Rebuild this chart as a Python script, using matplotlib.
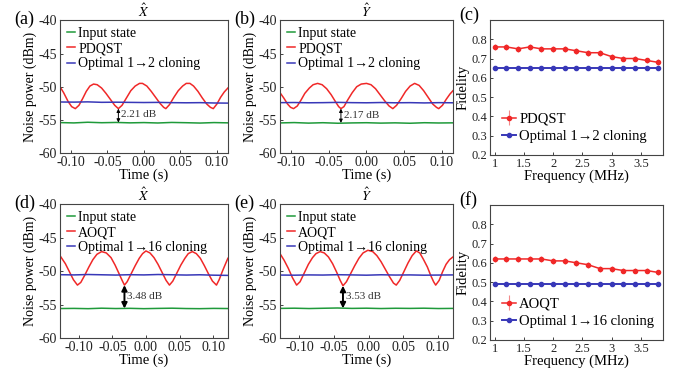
import matplotlib
matplotlib.use("Agg")
import matplotlib.pyplot as plt

plt.rcParams['font.family'] = ['Liberation Serif', 'DejaVu Serif']
plt.rcParams['mathtext.fontset'] = 'stix'
plt.rcParams['axes.unicode_minus'] = False

# ---- data ----
# (a) X quadrature, PDQST
t_a = [-0.115, -0.110, -0.104, -0.099, -0.094, -0.089, -0.084, -0.079, -0.074, -0.069,
       -0.064, -0.058, -0.052, -0.046, -0.040, -0.035, -0.030, -0.024, -0.018, -0.012,
       -0.006, -0.002, 0.004, 0.010, 0.016, 0.022, 0.027, 0.030, 0.035, 0.041,
       0.047, 0.053, 0.058, 0.063, 0.068, 0.074, 0.080, 0.086, 0.091, 0.095,
       0.100, 0.105, 0.110, 0.115]
red_a = [-50.0, -50.9, -52.2, -53.0, -53.3, -52.8, -51.8, -50.7, -49.9, -49.6,
         -49.7, -50.2, -51.0, -51.9, -52.8, -53.3, -52.8, -51.7, -50.6, -49.9,
         -49.5, -49.5, -49.9, -50.7, -51.6, -52.5, -53.1, -53.3, -52.7, -51.6,
         -50.6, -49.9, -49.5, -49.5, -49.9, -50.7, -51.7, -52.6, -53.1, -53.3,
         -52.6, -51.6, -50.8, -50.2]
# (b) Y quadrature, PDQST
t_b = [-0.115, -0.110, -0.105, -0.101, -0.097, -0.092, -0.087, -0.082, -0.076, -0.071,
       -0.065, -0.059, -0.053, -0.047, -0.041, -0.037, -0.034, -0.030, -0.025, -0.019,
       -0.013, -0.007, 0.000, 0.006, 0.012, 0.018, 0.024, 0.030, 0.035, 0.040,
       0.046, 0.052, 0.058, 0.064, 0.070, 0.076, 0.082, 0.088, 0.093, 0.096,
       0.101, 0.106, 0.111, 0.115]
red_b = [-50.9, -51.7, -52.6, -53.1, -53.3, -52.9, -52.0, -51.0, -50.2, -49.7,
         -49.5, -49.7, -50.3, -51.2, -52.3, -53.0, -53.3, -53.0, -52.0, -50.9,
         -50.0, -49.6, -49.5, -49.7, -50.3, -51.2, -52.1, -52.9, -53.3, -52.8,
         -51.8, -50.7, -49.9, -49.5, -49.8, -50.6, -51.6, -52.6, -53.1, -53.3,
         -52.8, -51.9, -51.1, -50.6]
# (d) X quadrature, AOQT
t_d = [-0.128, -0.120, -0.114, -0.108, -0.102, -0.097, -0.091, -0.085, -0.079, -0.073,
       -0.066, -0.059, -0.052, -0.046, -0.040, -0.035, -0.032, -0.028, -0.022, -0.016,
       -0.010, -0.005, 0.000, 0.006, 0.012, 0.018, 0.024, 0.030, 0.035, 0.040,
       0.046, 0.052, 0.058, 0.063, 0.069, 0.075, 0.081, 0.087, 0.093, 0.099,
       0.105, 0.109, 0.114, 0.119, 0.122]
red_d = [-47.7, -48.9, -50.1, -51.3, -52.1, -51.7, -50.6, -49.4, -48.3, -47.5,
         -47.1, -47.3, -48.0, -49.1, -50.4, -51.5, -52.1, -51.6, -50.4, -49.2,
         -48.1, -47.4, -47.0, -47.3, -48.0, -49.0, -50.2, -51.4, -52.1, -51.5,
         -50.3, -49.1, -48.1, -47.4, -47.1, -47.4, -48.1, -49.2, -50.4, -51.5,
         -52.1, -51.3, -50.0, -48.8, -48.1]
# (e) Y quadrature, AOQT
t_e = [-0.128, -0.122, -0.116, -0.110, -0.104, -0.099, -0.093, -0.087, -0.081, -0.076,
       -0.070, -0.064, -0.058, -0.052, -0.046, -0.041, -0.037, -0.032, -0.026, -0.020,
       -0.014, -0.008, -0.001, 0.006, 0.012, 0.018, 0.024, 0.030, 0.036, 0.040,
       0.045, 0.051, 0.057, 0.063, 0.069, 0.074, 0.079, 0.085, 0.090, 0.094,
       0.097, 0.102, 0.107, 0.112, 0.117, 0.122]
red_e = [-47.4, -48.4, -49.6, -51.0, -52.1, -51.6, -50.3, -49.0, -48.0, -47.4,
         -47.1, -47.3, -47.9, -48.9, -50.2, -51.4, -52.2, -51.6, -50.4, -49.2,
         -48.1, -47.3, -46.9, -47.1, -47.7, -48.6, -49.7, -50.8, -51.8, -52.1,
         -51.4, -50.1, -48.8, -47.7, -47.0, -47.3, -48.2, -49.4, -50.7, -51.6,
         -52.1, -51.4, -50.1, -49.0, -48.3, -47.9]

# flat traces (input state and optimal cloning)
t_flat_top = [-0.115, -0.096, -0.077, -0.058, -0.038, -0.019, 0.000, 0.019, 0.038, 0.058, 0.077, 0.096, 0.115]
green_a = [-55.40, -55.45, -55.35, -55.42, -55.38, -55.44, -55.40, -55.46, -55.38, -55.42, -55.47, -55.40, -55.44]
blue_a = [-52.30, -52.32, -52.28, -52.35, -52.33, -52.36, -52.38, -52.36, -52.40, -52.42, -52.40, -52.45, -52.47]
green_b = [-55.45, -55.40, -55.48, -55.42, -55.50, -55.45, -55.42, -55.48, -55.44, -55.50, -55.42, -55.46, -55.44]
blue_b = [-52.40, -52.38, -52.42, -52.40, -52.36, -52.40, -52.42, -52.38, -52.42, -52.40, -52.44, -52.40, -52.42]
t_flat_bot = [-0.128, -0.107, -0.086, -0.066, -0.045, -0.024, -0.003, 0.018, 0.039, 0.060, 0.080, 0.101, 0.122]
green_d = [-55.60, -55.58, -55.62, -55.55, -55.60, -55.57, -55.62, -55.58, -55.55, -55.60, -55.62, -55.58, -55.60]
blue_d = [-50.55, -50.58, -50.52, -50.56, -50.60, -50.55, -50.58, -50.52, -50.56, -50.60, -50.56, -50.62, -50.65]
green_e = [-55.58, -55.55, -55.60, -55.56, -55.52, -55.58, -55.55, -55.60, -55.56, -55.58, -55.55, -55.60, -55.58]
blue_e = [-50.60, -50.62, -50.58, -50.60, -50.55, -50.58, -50.62, -50.56, -50.60, -50.58, -50.62, -50.60, -50.58]

# fidelity vs frequency
freq = [1.0, 1.2, 1.4, 1.6, 1.8, 2.0, 2.2, 2.4, 2.6, 2.8, 3.0, 3.2, 3.4, 3.6, 3.8]
fid_pdqst = [0.76, 0.76, 0.75, 0.76, 0.75, 0.75, 0.75, 0.74, 0.73, 0.73, 0.71, 0.70, 0.70, 0.69, 0.68]
err_pdqst = [0.015] * 15
fid_clone2 = [0.65] * 15
fid_aoqt = [0.62, 0.62, 0.62, 0.62, 0.62, 0.61, 0.61, 0.60, 0.59, 0.57, 0.57, 0.56, 0.56, 0.56, 0.55]
err_aoqt = [0.015] * 15
fid_clone16 = [0.49] * 15

GREEN = '#1f9a3a'
RED = '#f02828'
BLUE = '#3838b8'
FS = 10

fig = plt.figure(figsize=(6.77, 3.69), dpi=100)


def style(ax):
    for s in ax.spines.values():
        s.set_color('#444444')
        s.set_linewidth(0.8)
    ax.tick_params(direction='in', length=2.5, width=0.6, labelsize=FS, pad=2,
                   colors='#222222')


def noise_panel(rect, t_red, red, t_flat, green, blue, red_lab, clone_lab,
                title, letter, xlim, arr_t, arr_top, arr_bot, arr_txt, thick):
    ax = fig.add_axes(rect)
    ax.plot(t_flat, green, color=GREEN, lw=1.1, label='Input state')
    ax.plot(t_red, red, color=RED, lw=1.1, label=red_lab)
    ax.plot(t_flat, blue, color=BLUE, lw=1.1, label=clone_lab)
    ax.set_xlim(*xlim)
    ax.set_ylim(-60, -40)
    ax.set_yticks([-60, -55, -50, -45, -40])
    ax.set_xticks([-0.10, -0.05, 0.0, 0.05, 0.10])
    ax.set_xticklabels(['-0.10', '-0.05', '0.00', '0.05', '0.10'])
    ax.set_xlabel('Time (s)', fontsize=FS + 0.5, labelpad=0)
    ax.set_ylabel('Noise power (dBm)', fontsize=FS, labelpad=1)
    ax.set_title(title, fontsize=FS, pad=1)
    style(ax)
    ax.legend(loc='upper left', frameon=False, fontsize=FS,
              handlelength=0.6, handletextpad=0.2, labelspacing=0.15,
              borderaxespad=0.1)
    lw = 1.4 if thick else 0.7
    ms = 8 if thick else 5
    ax.annotate('', xy=(arr_t, arr_bot), xytext=(arr_t, arr_top),
                arrowprops=dict(arrowstyle='<|-|>', color='black', lw=lw,
                                mutation_scale=ms, shrinkA=0, shrinkB=0))
    ax.text(arr_t + 0.004, (arr_top + arr_bot) / 2 + 0.1, arr_txt,
            fontsize=8, va='center', ha='left', color='#333333')
    fig.text(rect[0] - 0.067, rect[1] + rect[3] + 0.002, letter,
             fontsize=FS + 3, va='center', ha='left')
    return ax


def fid_panel(rect, red_vals, red_err, blue_vals, red_lab, clone_lab, letter):
    ax = fig.add_axes(rect)
    eb = ax.errorbar(freq, red_vals, yerr=red_err, color=RED, lw=1.1, marker='o',
                     ms=3, ecolor='#f28a8a', elinewidth=0.8, capsize=0)
    bl, = ax.plot(freq, blue_vals, color=BLUE, lw=1.4, marker='o', ms=3)
    ax.set_xlim(0.92, 3.88)
    ax.set_ylim(0.2, 0.9)
    ax.set_yticks([0.2, 0.3, 0.4, 0.5, 0.6, 0.7, 0.8])
    ax.set_xticks([1, 1.5, 2, 2.5, 3, 3.5])
    ax.set_xticklabels(['1', '1.5', '2', '2.5', '3', '3.5'])
    ax.set_xlabel('Frequency (MHz)', fontsize=FS + 0.5, labelpad=0)
    ax.set_ylabel('Fidelity', fontsize=FS + 0.5, labelpad=1)
    style(ax)
    ax.tick_params(labelsize=FS - 1)
    ax.legend([eb, bl], [red_lab, clone_lab], loc='lower left', frameon=False,
              fontsize=FS + 0.5, handlelength=1.0, handletextpad=0.2,
              labelspacing=0.3, numpoints=1, borderaxespad=0.4,
              bbox_to_anchor=(0.0, 0.0))
    fig.text(rect[0] - 0.045, rect[1] + rect[3] + 0.013, letter,
             fontsize=FS + 3, va='center', ha='left')
    return ax


top_lim = (-0.115, 0.115)
bot_lim = (-0.128, 0.122)

noise_panel([0.0886, 0.585, 0.248, 0.360], t_a, red_a, t_flat_top, green_a, blue_a,
            'PDQST', 'Optimal 1→2 cloning', r'$\hat{X}$', '(a)', top_lim,
            -0.035, -53.3, -55.4, '2.21 dB', False)
noise_panel([0.4136, 0.585, 0.2555, 0.360], t_b, red_b, t_flat_top, green_b, blue_b,
            'PDQST', 'Optimal 1→2 cloning', r'$\hat{Y}$', '(b)', top_lim,
            -0.034, -53.3, -55.45, '2.17 dB', False)
noise_panel([0.0886, 0.084, 0.248, 0.363], t_d, red_d, t_flat_bot, green_d, blue_d,
            'AOQT', 'Optimal 1→16 cloning', r'$\hat{X}$', '(d)', bot_lim,
            -0.032, -52.1, -55.6, '3.48 dB', True)
noise_panel([0.4136, 0.084, 0.2555, 0.363], t_e, red_e, t_flat_bot, green_e, blue_e,
            'AOQT', 'Optimal 1→16 cloning', r'$\hat{Y}$', '(e)', bot_lim,
            -0.037, -52.2, -55.58, '3.53 dB', True)

fid_panel([0.7238, 0.58, 0.2555, 0.366], fid_pdqst, err_pdqst, fid_clone2,
          'PDQST', 'Optimal 1→2 cloning', '(c)')
fid_panel([0.7238, 0.0786, 0.2555, 0.366], fid_aoqt, err_aoqt, fid_clone16,
          'AOQT', 'Optimal 1→16 cloning', '(f)')

fig.savefig('out.png', dpi=100)
